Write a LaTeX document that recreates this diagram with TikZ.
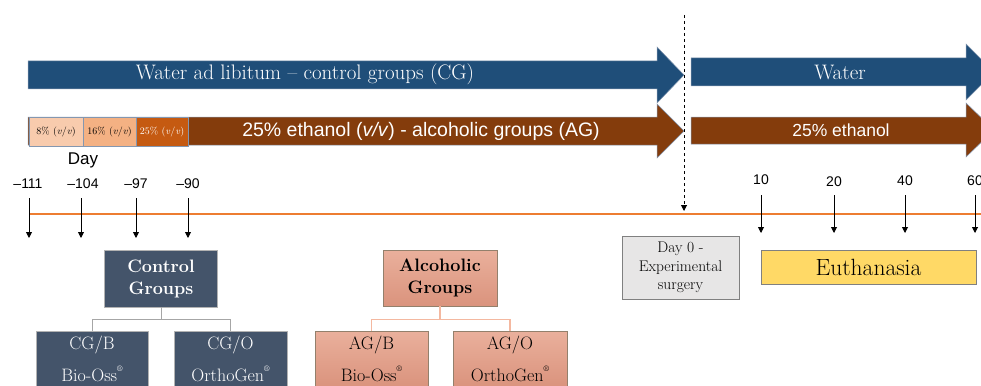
\documentclass[tikz,border=0pt]{standalone}
\usepackage{fontspec}
\newfontfamily\arial{Liberation Sans}
\usetikzlibrary{arrows.meta}
\definecolor{cblue}{HTML}{1F4E79}
\definecolor{cbrown}{HTML}{843C0C}
\definecolor{sone}{HTML}{F8CBAD}
\definecolor{stwo}{HTML}{F4B183}
\definecolor{sthree}{HTML}{C55A11}
\definecolor{sborder}{HTML}{8497B0}
\definecolor{orangeline}{HTML}{ED7D31}
\definecolor{slate}{HTML}{44546A}
\definecolor{salmontop}{HTML}{EAB09C}
\definecolor{salmonbot}{HTML}{DA937D}
\definecolor{salmonline}{HTML}{F4B8A0}
\definecolor{grayfill}{HTML}{E7E6E6}
\definecolor{goldfill}{HTML}{FFD966}
\newcommand{\regmark}{\raisebox{0.55em}{\fontsize{8}{8}\selectfont\textregistered}}
\tikzset{
  bigarrow/.style={draw=sborder, line width=0.5pt},
  stagebox/.style={draw=sborder, line width=0.8pt, minimum height=29pt, inner sep=0pt, font=\fontsize{10}{12}\selectfont},
  tickarrow/.style={draw=black, line width=0.9pt, -{Triangle[width=6pt,length=6pt]}},
  ticklabel/.style={font=\arial\fontsize{14}{16}\selectfont, inner sep=0pt},
  slatebox/.style={draw=gray!60, fill=slate, text=white, minimum width=113pt, align=center, inner sep=0pt, line width=0.8pt},
  salmonbox/.style={draw=gray!70!brown, top color=salmontop, bottom color=salmonbot, text=black, minimum width=113pt, align=center, inner sep=0pt, line width=0.8pt},
  slateconn/.style={draw=gray!70, line width=1pt},
  salmonconn/.style={draw=salmonline, line width=1.2pt},
  headfont/.style={font=\bfseries\fontsize{18}{22}\selectfont},
  subfont/.style={font=\fontsize{18}{22}\selectfont},
}
\begin{document}
\begin{tikzpicture}[x=1pt,y=-1pt]
\useasboundingbox (0,0) rectangle (981,385);
\clip (0,0) rectangle (981,385);

% big arrows
\fill[cblue, bigarrow] (28,61) -- (657,61) -- (657,47) -- (684,75) -- (657,103) -- (657,89) -- (28,89) -- cycle;
\fill[cblue, bigarrow] (691,58) -- (966,58) -- (966,44) -- (994,72) -- (966,100) -- (966,86) -- (691,86) -- cycle;
\fill[cbrown, bigarrow] (28,117) -- (657,117) -- (657,104) -- (684,131) -- (657,158) -- (657,145) -- (28,145) -- cycle;
\fill[cbrown, bigarrow] (691,117) -- (966,117) -- (966,103) -- (994,130) -- (966,157) -- (966,144) -- (691,144) -- cycle;

\node[text=white, font=\fontsize{21}{23}\selectfont] (wtxt) at (305,74) {Water ad libitum -- control groups (CG)};
\node[text=white, font=\fontsize{21}{23}\selectfont] (wtxt2) at (840,72) {Water};
\node[text=white, font=\arial\fontsize{19.5}{21}\selectfont] (atxt) at (421,131) {25\% ethanol (\textit{v/v}) - alcoholic groups (AG)};
\node[text=white, font=\arial\fontsize{17.5}{19}\selectfont] (atxt2) at (841,130) {25\% ethanol};

% stage boxes
\node[stagebox, fill=sone, minimum width=54pt] (st1) at (56,131.5) {8\% (\textit{v}/\textit{v})};
\node[stagebox, fill=stwo, minimum width=53pt] (st2) at (109.5,131.5) {16\% (\textit{v}/\textit{v})};
\node[stagebox, fill=sthree, minimum width=52pt, text=white] (st3) at (162,131.5) {25\% (\textit{v}/\textit{v})};

% dashed surgery line
\coordinate (dtop) at (684,15);
\coordinate (dbot) at (684,211);
\draw[dashed, line width=1pt, -{Triangle[width=6pt,length=6pt]}] (dtop) -- (dbot);

% timeline
\coordinate (tl0) at (29,214);
\coordinate (tl1) at (981,214);
\draw[orangeline, line width=1.5pt] (tl0) -- (tl1);

% labels
\node[font=\arial\fontsize{17}{19}\selectfont, inner sep=0pt] (day) at (83,160) {Day};
\node[ticklabel] (l1) at (28,184) {–111};
\node[ticklabel] (l2) at (83,184) {–104};
\node[ticklabel] (l3) at (136,184) {–97};
\node[ticklabel] (l4) at (188,184) {–90};
\node[ticklabel] (r1) at (761,180) {10};
\node[ticklabel] (r2) at (834,182) {20};
\node[ticklabel] (r3) at (905,181) {40};
\node[ticklabel] (r4) at (975,181) {60};

% tick arrows
\foreach \i/\x in {1/29,2/81,3/136,4/188}{
  \coordinate (lt\i) at (\x,198);
  \coordinate (lb\i) at (\x,238);
  \draw[tickarrow] (lt\i) -- (lb\i);
}
\foreach \i/\x in {1/761,2/834,3/905,4/975}{
  \coordinate (rt\i) at (\x,195);
  \coordinate (rb\i) at (\x,233);
  \draw[tickarrow] (rt\i) -- (rb\i);
}

% day 0 and euthanasia
\node[draw=gray, fill=grayfill, line width=0.9pt, minimum width=117pt, minimum height=63pt, align=center, inner sep=0pt, font=\fontsize{15.5}{18.5}\selectfont] (day0) at (680.5,267.5) {Day 0 -\\Experimental\\surgery};
\node[draw=gray, fill=goldfill, line width=0.9pt, minimum width=215pt, minimum height=34pt, inner sep=0pt, font=\fontsize{23.5}{25}\selectfont] (euth) at (868.5,267) {Euthanasia};

% control groups
\node[slatebox, minimum height=57pt, headfont] (cg) at (161,278.5) {Control\\Groups};
\node[slatebox, minimum width=112pt, minimum height=56pt, subfont] (cgb) at (92,359) {CG/B\\[10pt]Bio-Oss\regmark};
\node[slatebox, minimum width=113pt, minimum height=56pt, subfont] (cgo) at (230.5,359) {CG/O\\[10pt]OrthoGen\regmark};
\draw[slateconn] (cg.south) -- ++(0,12) -| (cgb.north);
\draw[slateconn] (cg.south) -- ++(0,12) -| (cgo.north);

% alcoholic groups
\node[salmonbox, minimum width=114pt, minimum height=56pt, headfont] (ag) at (440,278) {Alcoholic\\Groups};
\node[salmonbox, minimum width=113pt, minimum height=56pt, subfont] (agb) at (371.5,359) {AG/B\\[10pt]Bio-Oss\regmark};
\node[salmonbox, minimum width=114pt, minimum height=56pt, subfont] (ago) at (510,359) {AG/O\\[10pt]OrthoGen\regmark};
\draw[salmonconn] (ag.south) -- ++(0,13) -| (agb.north);
\draw[salmonconn] (ag.south) -- ++(0,13) -| (ago.north);
\end{tikzpicture}
\end{document}
